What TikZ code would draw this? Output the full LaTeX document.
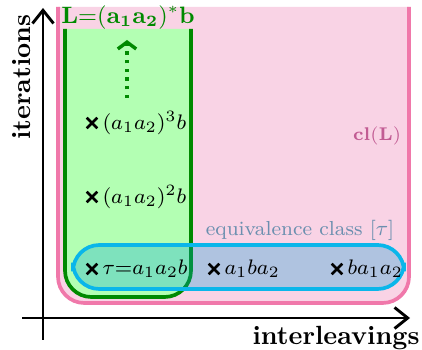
\documentclass[tikz,border=0pt]{standalone}
\usetikzlibrary{arrows.meta,positioning,shapes.misc}
\definecolor{PinkFill}{HTML}{F9D3E5}
\definecolor{PinkLine}{HTML}{F078AA}
\definecolor{PinkText}{HTML}{C25B93}
\definecolor{GreenFill}{HTML}{B3FFB3}
\definecolor{GreenLine}{HTML}{008A00}
\definecolor{CyanLine}{HTML}{0AB6EA}
\definecolor{CyanFill}{HTML}{06A1D5}
\definecolor{ClassText}{HTML}{6B8FAF}
\tikzset{
  axis/.style={line width=1.1pt,-{Straight Barb[length=5pt,width=8pt]}},
  axislabel/.style={font=\bfseries,text=black,inner sep=0pt},
  region/.style={line width=1.4pt,rounded corners=10},
  point/.style={cross out,draw=black,line width=1pt,minimum size=3pt,inner sep=0pt},
  wordlabel/.style={inner sep=0pt,font=\fontsize{8}{10}\selectfont,right=1.8pt of #1}
}
\begin{document}
\begin{tikzpicture}[x=0.38pt,y=-0.38pt]
  \useasboundingbox (0,0) rectangle (422,350);
  % closure of L
  \filldraw[region,draw=PinkLine,fill=PinkFill] (58,7) -- (58,303) -- (409,303) -- (409,7);
  \node[text=PinkText,inner sep=0pt,font=\fontsize{7.5}{9}\selectfont] (cl) at (377,136) {$\mathbf{cl(L)}$};
  % the language L
  \filldraw[region,draw=GreenLine,fill=GreenFill] (65,29) -- (65,297) -- (191,297) -- (191,29);
  \node[text=GreenLine,inner sep=0pt,font=\fontsize{8.6}{10}\selectfont] (lang) at (128,18) {$\mathbf{L{=}(a_1a_2)^*b}$};
  \coordinate (dotsfrom) at (127,98);
  \coordinate (dotsto) at (127,40);
  \draw[GreenLine,line width=1.3pt,dotted,-{Straight Barb[length=2.6pt,width=7pt]}] (dotsfrom) -- (dotsto);
  % equivalence class of tau
  \draw[region,draw=CyanLine,fill=CyanFill,fill opacity=0.3] (73,245) rectangle (404,289);
  \node[text=ClassText,inner sep=0pt,font=\fontsize{7.7}{9}\selectfont] (class) at (300,230) {equivalence class [$\tau$]};
  % words
  \node[point] (w3) at (92,123) {};
  \node[wordlabel=w3] (w3t) {$(a_1a_2)^3b$};
  \node[point] (w2) at (92,197) {};
  \node[wordlabel=w2] (w2t) {$(a_1a_2)^2b$};
  \node[point] (w1) at (92,269) {};
  \node[wordlabel=w1] (w1t) {$\tau{=}a_1a_2b$};
  \node[point] (v1) at (214,269) {};
  \node[wordlabel=v1] (v1t) {$a_1ba_2$};
  \node[point] (v2) at (337,269) {};
  \node[wordlabel=v2] (v2t) {$ba_1a_2$};
  % axes
  \coordinate (xfrom) at (22,318);
  \coordinate (xto) at (410,318);
  \coordinate (yfrom) at (43,340);
  \coordinate (yto) at (43,8);
  \draw[axis] (xfrom) -- (xto);
  \draw[axis] (yfrom) -- (yto);
  \node[axislabel] (xlabel) at (336,338) {interleavings};
  \node[axislabel,rotate=90] (ylabel) at (22,77) {iterations};
\end{tikzpicture}
\end{document}
